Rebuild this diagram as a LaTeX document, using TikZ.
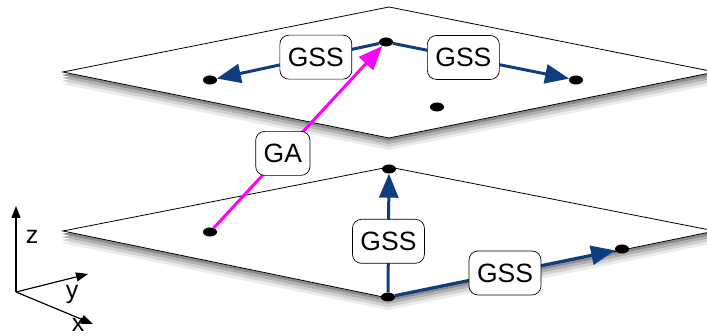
\documentclass[tikz,border=0pt]{standalone}
\usepackage{fontspec}
\setmainfont{Liberation Sans}
\usepackage{tikz}
\usetikzlibrary{arrows.meta}
\usetikzlibrary{shapes.geometric}
\definecolor{gssblue}{RGB}{14,62,128}
\definecolor{gapink}{RGB}{255,0,255}
\tikzstyle{plane}=[draw=black,line width=.8pt,fill=white]
\tikzstyle{dot}=[ellipse,fill=black,minimum width=14pt,minimum height=9pt,inner sep=0pt]
\tikzstyle{lbl}=[draw=black,line width=.7pt,fill=white,rounded corners=9pt,minimum height=44pt,inner xsep=8pt,text height=19pt,text depth=0pt,font=\fontsize{26.5}{30}\selectfont]
\tikzstyle{head}=[>/.tip={Triangle[length=24pt,width=19pt]}]
\tikzstyle{gss}=[line width=3pt,draw=gssblue,head,->]
\tikzstyle{ga} =[line width=3pt,draw=gapink,head,->]
\tikzstyle{axis}=[line width=1.2pt,-{Triangle[length=12pt,width=9pt]}]
\tikzstyle{axlbl}=[inner sep=0pt,font=\fontsize{25}{28}\selectfont]

\begin{document}
\begin{tikzpicture}[x=1pt,y=-1pt]
	\useasboundingbox (0,0) rectangle (707,336);
	% soft shadows below the two planes
	\fill[black!8]  (62,84) -- (389,19) -- (716,84) -- (389,150) -- cycle;
	\fill[black!18] (62,81) -- (389,16) -- (716,81) -- (389,147) -- cycle;
	\fill[black!30] (62,78) -- (389,13) -- (716,78) -- (389,144) -- cycle;
	\fill[black!45] (62,75) -- (389,10) -- (716,75) -- (389,141) -- cycle;
	\fill[black!8]  (62,243) -- (389,179) -- (716,243) -- (388,310) -- cycle;
	\fill[black!18] (62,240) -- (389,176) -- (716,240) -- (388,307) -- cycle;
	\fill[black!30] (62,237) -- (389,173) -- (716,237) -- (388,304) -- cycle;
	\fill[black!45] (62,234) -- (389,170) -- (716,234) -- (388,301) -- cycle;
	% the two planes
	\path[plane] (63,72) -- (389,7) -- (715,72) -- (389,138) -- cycle;
	\path[plane] (63,231) -- (389,167) -- (715,231) -- (388,298) -- cycle;
	% points on the upper plane
	\node[dot] (Uc) at (386,42)  {};
	\node[dot] (Ul) at (210,80)  {};
	\node[dot] (Ur) at (576,80)  {};
	\node[dot] (Um) at (437,107) {};
	% points on the lower plane
	\node[dot] (Lt) at (389,169) {};
	\node[dot] (Lb) at (388,297) {};
	\node[dot] (Ll) at (210,232) {};
	\node[dot] (Lr) at (622,249) {};
	% moves
	\draw[gss] (Uc) --node[lbl,pos=.39] {GSS} (Ul);
	\draw[gss] (Uc) --node[lbl,pos=.40] {GSS} (Ur);
	\draw[gss] (Lb) --node[lbl,pos=.43] {GSS} (Lt);
	\draw[gss] (Lb) --node[lbl,pos=.50] {GSS} (Lr);
	\draw[ga]  (Ll) --node[lbl,pos=.41] {GA}  (Uc);
	% axes
	\coordinate (O) at (16,292);
	\coordinate (Z) at (16,206);
	\coordinate (Y) at (88,274);
	\coordinate (X) at (93,324);
	\draw[axis] (O) -- (Z);
	\draw[axis] (O) -- (Y);
	\draw[axis] (O) -- (X);
	\node[axlbl] (zl) at (32,237) {z};
	\node[axlbl] (yl) at (72,294) {y};
	\node[axlbl] (xl) at (78,325) {x};
\end{tikzpicture}
\end{document}
